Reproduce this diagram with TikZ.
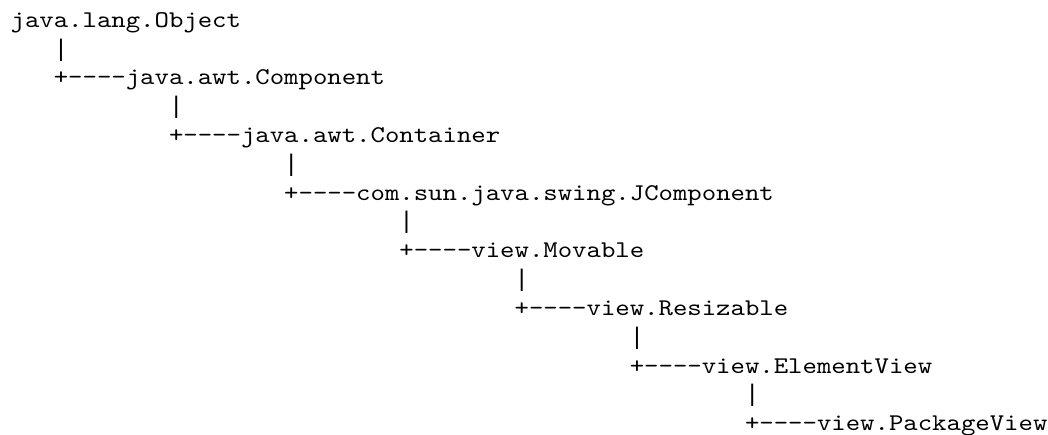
\documentclass[tikz,border=0pt]{standalone}
\usepackage{fontspec}
% typewriter face, widened so one character cell is 0.6em
\newfontfamily\codefont{lmmono10-regular}[Extension=.otf,FakeStretch=1.143,Ligatures=TeXOff]
% face with a full-height vertical bar, same 0.6em cell
\newfontfamily\barfont{Liberation Mono}
\begin{document}
\begin{tikzpicture}[x=1pt,y=1pt,
  codeline/.style={anchor=base west,inner sep=0pt,outer sep=0pt,text=black,
    font=\codefont\fontsize{24}{28.8}\selectfont},
  barline/.style={codeline,font=\barfont\fontsize{24}{28.8}\selectfont},
]
% character cell: 14.4pt wide, rows 28.8pt apart
\def\cw{14.4}
\def\lh{28.8}
\def\ox{10.6}
\def\oy{27.4}
\useasboundingbox (0,0) rectangle (1048,-435);
\node[codeline] (obj)    at ({\ox+0*\cw},  {-(\oy+0*\lh)})  {java.lang.Object};
\node[barline]  (bara)   at ({\ox+3*\cw},  {-(\oy+1*\lh)})  {|};
\node[codeline] (comp)   at ({\ox+3*\cw},  {-(\oy+2*\lh)})  {+----java.awt.Component};
\node[barline]  (barb)   at ({\ox+11*\cw}, {-(\oy+3*\lh)})  {|};
\node[codeline] (cont)   at ({\ox+11*\cw}, {-(\oy+4*\lh)})  {+----java.awt.Container};
\node[barline]  (barc)   at ({\ox+19*\cw}, {-(\oy+5*\lh)})  {|};
\node[codeline] (jcomp)  at ({\ox+19*\cw}, {-(\oy+6*\lh)})  {+----com.sun.java.swing.JComponent};
\node[barline]  (bard)   at ({\ox+27*\cw}, {-(\oy+7*\lh)})  {|};
\node[codeline] (mov)    at ({\ox+27*\cw}, {-(\oy+8*\lh)})  {+----view.Movable};
\node[barline]  (bare)   at ({\ox+35*\cw}, {-(\oy+9*\lh)})  {|};
\node[codeline] (res)    at ({\ox+35*\cw}, {-(\oy+10*\lh)}) {+----view.Resizable};
\node[barline]  (barf)   at ({\ox+43*\cw}, {-(\oy+11*\lh)}) {|};
\node[codeline] (elem)   at ({\ox+43*\cw}, {-(\oy+12*\lh)}) {+----view.ElementView};
\node[barline]  (barg)   at ({\ox+51*\cw}, {-(\oy+13*\lh)}) {|};
\node[codeline] (pkg)    at ({\ox+51*\cw}, {-(\oy+14*\lh)}) {+----view.PackageView};
\end{tikzpicture}
\end{document}
